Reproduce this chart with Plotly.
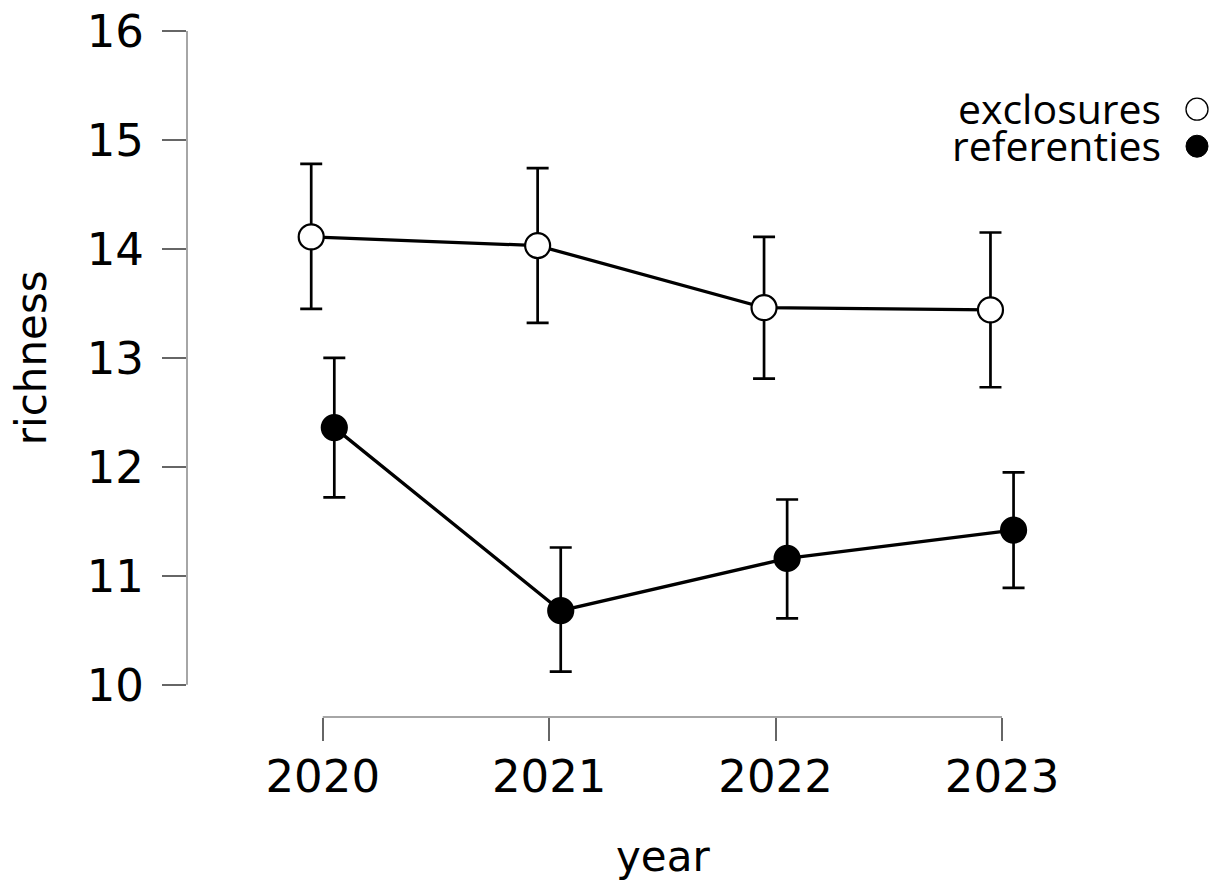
import plotly.graph_objects as go

years = [2020, 2021, 2022, 2023]
tick_labels = ["2020", "2021", "2022", "2023"]
y_ticks = [10, 11, 12, 13, 14, 15, 16]

excl_mean = [14.11, 14.03, 13.46, 13.44]
excl_upper = [14.78, 14.74, 14.11, 14.15]
excl_lower = [13.45, 13.32, 12.81, 12.73]

ref_mean = [12.36, 10.68, 11.16, 11.42]
ref_upper = [13.00, 11.26, 11.70, 11.95]
ref_lower = [11.72, 10.12, 10.61, 10.89]

series_names = ["exclosures", "referenties"]

W, H = 1219, 888
L, R, T, B = 186.7, 20, 19.8, 171.3
pw, ph = W - L - R, H - T - B

dodge = 0.051

def px_x(p):
    return (p - L) / pw

def px_y(p):
    return (H - B - p) / ph

fig = go.Figure()

def add_series(means, upper, lower, sign, fill):
    xs = [y + sign * dodge for y in years]
    fig.add_trace(go.Scatter(
        x=xs, y=means, mode="lines+markers",
        line=dict(color="black", width=3.3),
        marker=dict(size=25, color=fill, line=dict(color="black", width=2.2)),
        error_y=dict(type="data", symmetric=False,
                     array=[u - m for u, m in zip(upper, means)],
                     arrayminus=[m - l for m, l in zip(means, lower)],
                     color="black", thickness=2.7, width=11),
        showlegend=False, cliponaxis=False,
    ))

add_series(excl_mean, excl_upper, excl_lower, -1, "white")
add_series(ref_mean, ref_upper, ref_lower, 1, "black")

tick_font = dict(family="DejaVu Sans", size=45, color="black")

fig.update_layout(
    template="none",
    width=W, height=H,
    margin=dict(l=L, r=R, t=T, b=B, pad=0, autoexpand=False),
    plot_bgcolor="white", paper_bgcolor="white",
    xaxis=dict(range=[2019.4004, 2023.870], tickvals=years, ticktext=tick_labels,
               showgrid=False, zeroline=False, showline=False, automargin=False,
               ticks="outside", ticklen=23, tickwidth=1.5, tickcolor="#666",
               tickfont=tick_font, ticklabelstandoff=-3),
    yaxis=dict(range=[9.7045, 16.1], tickvals=y_ticks,
               showgrid=False, zeroline=False, showline=False, automargin=False,
               ticks="outside", ticklen=24, tickwidth=1.5, tickcolor="#666",
               tickfont=tick_font, ticklabelstandoff=9),
)

# offset axis lines (JASP style)
fig.add_shape(type="line", xref="x", yref="paper", x0=years[0], x1=years[-1], y0=0, y1=0,
              line=dict(color="#888", width=1.5))
fig.add_shape(type="line", xref="paper", yref="y", x0=0, x1=0, y0=y_ticks[0], y1=y_ticks[-1],
              line=dict(color="#888", width=1.5))

title_font = dict(family="DejaVu Sans", size=42, color="black")
fig.add_annotation(text="richness", textangle=-90, xref="paper", yref="paper",
                   x=px_x(32), y=px_y(357.6), xanchor="center", yanchor="middle",
                   showarrow=False, font=title_font)
fig.add_annotation(text="year", xref="paper", yref="paper",
                   x=px_x(662.5), y=px_y(856), xanchor="center", yanchor="middle",
                   showarrow=False, font=title_font)

# legend (text left of symbol)
leg_font = dict(family="Open Sans", size=41, color="black")
leg_y = [108, 145]
leg_fill = ["white", "black"]
for name, yy, fill in zip(series_names, leg_y, leg_fill):
    fig.add_annotation(text=name, xref="paper", yref="paper",
                       x=px_x(1163), y=px_y(yy), xanchor="right", yanchor="middle",
                       showarrow=False, font=leg_font)
    fig.add_shape(type="circle", xref="paper", yref="paper",
                  xsizemode="pixel", ysizemode="pixel",
                  xanchor=px_x(1197), yanchor=px_y(yy + 1),
                  x0=-11, x1=11, y0=-11, y1=11,
                  fillcolor=fill, line=dict(color="black", width=1.3 if fill == "white" else 1))

fig.write_html("out.html", config={"displayModeBar": False},
               post_script="document.body.style.margin='0px';document.body.style.overflow='hidden';")
